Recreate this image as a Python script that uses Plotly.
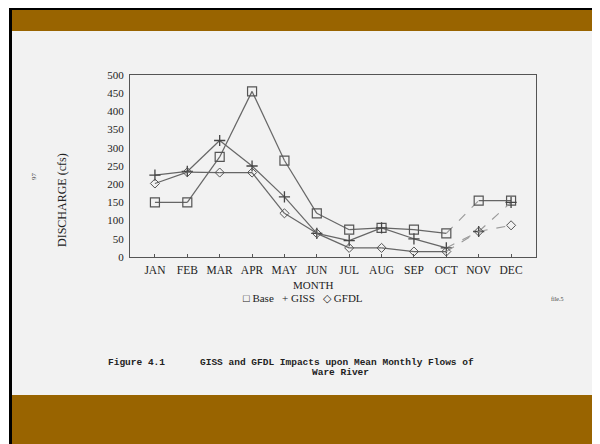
import plotly.graph_objects as go

months = ["JAN", "FEB", "MAR", "APR", "MAY", "JUN", "JUL", "AUG", "SEP", "OCT", "NOV", "DEC"]
base = [150, 150, 275, 455, 265, 120, 75, 80, 75, 65, 155, 155]
giss = [225, 235, 320, 250, 165, 65, 45, 80, 50, 25, 70, 150]
gfdl = [202, 233, 232, 232, 120, 65, 25, 25, 15, 15, 70, 87]
yticks = [0, 50, 100, 150, 200, 250, 300, 350, 400, 450, 500]
# segments (start index) drawn faint/dashed in the scan
base_faint = [9]
giss_faint = [9, 10]
gfdl_faint = [9, 10]

# reference-window coordinates; the page body has an 8px margin
OFF = 8
W, H = 600 - OFF, 444 - OFF
L, R, T, B = 130, 536, 75, 257

def px(x):
    return (x - L) / (R - L)

def py(y):
    return (B - y) / (B - T)

line_col = "#666666"
faint_col = "#9a9a9a"
serif = "Liberation Serif"
mono = "Liberation Mono"

fig = go.Figure()
xs = list(range(len(months)))


def add_series(vals, faint, symbol, size, mcol, mwidth, name):
    sx, sy, fx, fy = [], [], [], []
    for i in range(len(vals) - 1):
        if i in faint:
            fx += [xs[i], xs[i + 1], None]
            fy += [vals[i], vals[i + 1], None]
        else:
            sx += [xs[i], xs[i + 1], None]
            sy += [vals[i], vals[i + 1], None]
    fig.add_trace(go.Scatter(x=sx, y=sy, mode="lines", name=name,
                             line=dict(color=line_col, width=1.2), hoverinfo="skip"))
    fig.add_trace(go.Scatter(x=fx, y=fy, mode="lines", name=name,
                             line=dict(color=faint_col, width=1.1, dash="dash"), hoverinfo="skip"))
    fig.add_trace(go.Scatter(x=xs, y=vals, mode="markers", name=name,
                             marker=dict(symbol=symbol, size=size, color=mcol,
                                         line=dict(width=mwidth, color=mcol))))


add_series(base, base_faint, "square-open", 9, "#555", 1.2, "Base")
add_series(giss, giss_faint, "cross-thin-open", 8, "#444", 1.3, "GISS")
add_series(gfdl, gfdl_faint, "diamond-open", 7, "#555", 1.0, "GFDL")

shapes = [
    dict(type="rect", xref="paper", yref="paper", x0=px(9), x1=px(600), y0=py(444), y1=py(6),
         fillcolor="#000", line=dict(width=0), layer="below"),
    dict(type="rect", xref="paper", yref="paper", x0=px(12), x1=px(597), y0=py(444), y1=py(10),
         fillcolor="#f2f2f2", line=dict(width=0), layer="below"),
    dict(type="rect", xref="paper", yref="paper", x0=px(12), x1=px(597), y0=py(31), y1=py(10),
         fillcolor="#996400", line=dict(width=0), layer="below"),
    dict(type="rect", xref="paper", yref="paper", x0=px(12), x1=px(597), y0=py(444), y1=py(395),
         fillcolor="#996400", line=dict(width=0), layer="below"),
]


def note(text, x, y, size, family=serif, angle=0, xanchor="center", color="#222"):
    return dict(text=text, x=px(x), y=py(y), xref="paper", yref="paper",
                xanchor=xanchor, yanchor="middle", textangle=angle, showarrow=False,
                font=dict(family=family, size=size, color=color))


annotations = [
    note("DISCHARGE (cfs)", 62, 200, 12, angle=-90),
    note("MONTH", 313, 285, 11),
    note("\u25a1 Base   + GISS   \u25c7 GFDL", 303, 298, 11),
    note("<b>Figure 4.1</b>", 106, 362, 9.5, family=mono, xanchor="left"),
    note("<b>GISS and GFDL Impacts upon Mean Monthly Flows of</b>", 337, 362, 9.5, family=mono),
    note("<b>Ware River</b>", 340, 372, 9.5, family=mono),
    note("file.5", 557, 299, 6, color="#444"),
    note("97", 34, 176, 7, angle=-90, color="#444"),
]

fig.update_layout(
    width=W, height=H,
    margin=dict(l=L - OFF, r=W - (R - OFF), t=T - OFF, b=H - (B - OFF), pad=0),
    paper_bgcolor="#ffffff",
    plot_bgcolor="rgba(0,0,0,0)",
    showlegend=False,
    shapes=shapes,
    annotations=annotations,
    xaxis=dict(tickmode="array", tickvals=xs, ticktext=months, range=[-0.77, 11.77],
               showgrid=False, zeroline=False, showline=True, linecolor="#555", linewidth=1,
               mirror=True, ticks="inside", ticklen=3, tickcolor="#555",
               ticklabelstandoff=2,
               tickfont=dict(family=serif, size=11.5, color="#222")),
    yaxis=dict(tickmode="array", tickvals=yticks, range=[0, 500],
               showgrid=False, zeroline=False, showline=True, linecolor="#555", linewidth=1,
               mirror=True, ticks="", ticklabelstandoff=3,
               tickfont=dict(family=serif, size=11, color="#222")),
)

fig.write_html("out.html")
